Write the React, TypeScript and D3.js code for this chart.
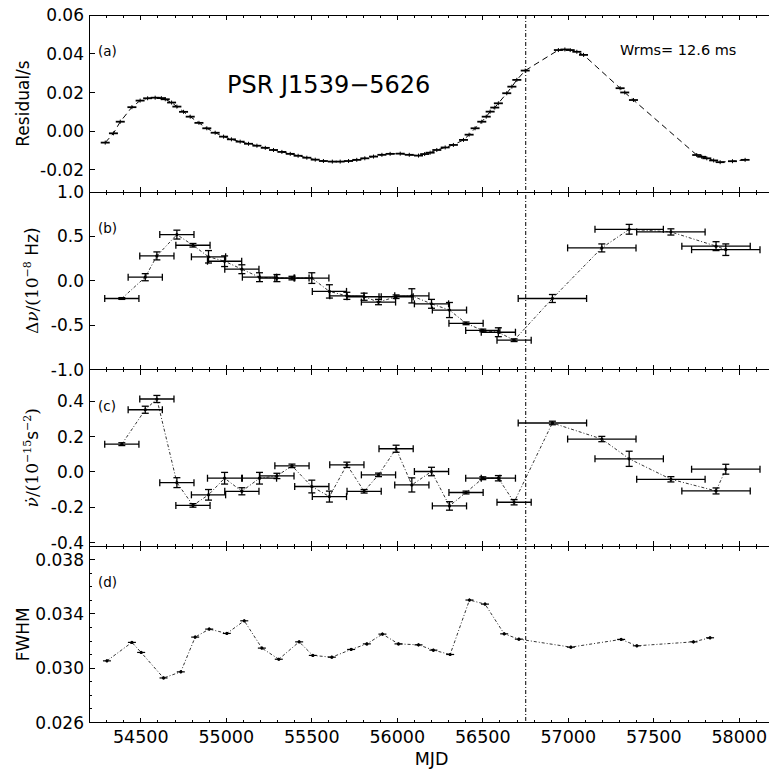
import React, { useRef, useEffect } from 'react';
import * as d3 from 'd3';

// (a) timing residuals: [MJD, residual in s]
const residuals: [number, number][] = [
  [54292, -0.0059], [54340, -0.0011], [54380, 0.0049], [54448, 0.0124], [54496, 0.0158],
  [54540, 0.0170], [54584, 0.0173], [54620, 0.0171], [54643, 0.0165], [54680, 0.0148],
  [54711, 0.0127], [54750, 0.0100], [54789, 0.0075], [54840, 0.0043], [54886, 0.0015],
  [54935, -0.0008], [54984, -0.0028], [55030, -0.0042], [55081, -0.0054], [55130, -0.0065],
  [55179, -0.0075], [55228, -0.0086], [55276, -0.0097], [55325, -0.0107], [55374, -0.0117],
  [55420, -0.0127], [55471, -0.0137], [55520, -0.0147], [55568, -0.0154], [55620, -0.0157],
  [55666, -0.0157], [55715, -0.0154], [55763, -0.0148], [55810, -0.0140], [55861, -0.0131],
  [55910, -0.0122], [55958, -0.0117], [56017, -0.0116], [56070, -0.0122], [56124, -0.0126],
  [56160, -0.0118], [56192, -0.0111], [56231, -0.0097], [56280, -0.0084], [56328, -0.0071],
  [56387, -0.0045], [56420, -0.0018], [56455, 0.0015], [56494, 0.0049], [56520, 0.0075],
  [56543, 0.0101], [56570, 0.0122], [56591, 0.0144], [56640, 0.0196], [56670, 0.0230],
  [56699, 0.0265], [56748, 0.0313], [56942, 0.0419], [56980, 0.0422], [57011, 0.0419],
  [57050, 0.0410], [57089, 0.0394], [57303, 0.0222], [57330, 0.0200], [57381, 0.0161],
  [57751, -0.0123], [57780, -0.0132], [57810, -0.0140], [57850, -0.0151], [57888, -0.0160],
  [57960, -0.0155], [58034, -0.0148],
];

// (b), (c) fitted epochs and half-widths of the fitting windows (days)
const epochs = [54389, 54526, 54594, 54711, 54805, 54896, 54990, 55091, 55194, 55296,
  55384, 55500, 55603, 55705, 55806, 55890, 55993, 56085, 56200, 56305,
  56402, 56500, 56591, 56683, 56907, 57196, 57356, 57600, 57864, 57921];
const halfWin = [100, 100, 100, 100, 100, 100, 100, 100, 100, 100,
  100, 100, 100, 100, 100, 100, 100, 100, 100, 100,
  100, 100, 100, 100, 200, 200, 200, 200, 200, 200];

// (b) delta nu, 1e-8 Hz
const dnu = [-0.20, 0.04, 0.28, 0.52, 0.40, 0.27, 0.22, 0.13, 0.04, 0.03,
  0.03, 0.03, -0.12, -0.17, -0.18, -0.24, -0.18, -0.17, -0.26, -0.33,
  -0.48, -0.56, -0.58, -0.67, -0.20, 0.37, 0.58, 0.55, 0.39, 0.35];
const dnuErr = [0.01, 0.04, 0.045, 0.05, 0.02, 0.07, 0.06, 0.05, 0.05, 0.04,
  0.02, 0.06, 0.075, 0.04, 0.04, 0.03, 0.02, 0.08, 0.05, 0.085,
  0.015, 0.015, 0.05, 0.015, 0.045, 0.045, 0.055, 0.035, 0.05, 0.065];

// (c) nu dot, 1e-15 s^-2
const nudot = [0.157, 0.352, 0.413, -0.061, -0.19, -0.13, -0.036, -0.11, -0.036, -0.023,
  0.034, -0.083, -0.14, 0.040, -0.11, -0.017, 0.131, -0.074, 0.002, -0.193,
  -0.117, -0.036, -0.036, -0.172, 0.277, 0.186, 0.074, -0.042, -0.108, 0.015];
const nudotErr = [0.008, 0.02, 0.02, 0.028, 0.01, 0.03, 0.033, 0.02, 0.033, 0.015,
  0.01, 0.036, 0.031, 0.015, 0.01, 0.01, 0.02, 0.04, 0.024, 0.024,
  0.008, 0.008, 0.015, 0.015, 0.01, 0.015, 0.043, 0.015, 0.017, 0.028];

// (d) FWHM: [MJD, value]
const fwhm: [number, number][] = [
  [54302, 0.03054], [54448, 0.03190], [54502, 0.03116], [54633, 0.02928], [54734, 0.02973],
  [54818, 0.03229], [54900, 0.03288], [55003, 0.03256], [55105, 0.03349], [55208, 0.03148],
  [55307, 0.03066], [55426, 0.03194], [55506, 0.03094], [55617, 0.03081], [55730, 0.03138],
  [55822, 0.03179], [55913, 0.03251], [56007, 0.03179], [56124, 0.03172], [56211, 0.03133],
  [56309, 0.03101], [56422, 0.03502], [56513, 0.03472], [56625, 0.03253], [56711, 0.03214],
  [57015, 0.03155], [57309, 0.03212], [57401, 0.03165], [57732, 0.03194], [57829, 0.03224],
];

const glitchMjd = 56751;
const xMajor = d3.range(54500, 58001, 500);
const xMinor = d3.range(54300, 58200, 100);

const SANS = 'DejaVu Sans, sans-serif';
const SERIF = 'DejaVu Serif, serif';

function App() {
  const ref = useRef<SVGSVGElement>(null);

  useEffect(() => {
    if (!ref.current) return;
    const svg = d3.select(ref.current);
    svg.selectAll('*').remove();

    const x = d3.scaleLinear().domain([54200, 58200]).range([89.5, 773.5]);
    const fmt = (f: string) => (v: number) => d3.format(f)(v).replace('−', '-');

    const panels = [
      { top: 15, bottom: 192, domain: [-0.0314, 0.06], ticks: [-0.02, 0, 0.02, 0.04, 0.06], f: fmt('.2f'), minor: [] as number[] },
      { top: 192, bottom: 369.5, domain: [-1, 1], ticks: [-1, -0.5, 0, 0.5, 1], f: fmt('.1f'), minor: [] as number[] },
      { top: 369.5, bottom: 546, domain: [-0.42, 0.58], ticks: [-0.4, -0.2, 0, 0.2, 0.4], f: fmt('.1f'), minor: [] as number[] },
      { top: 546, bottom: 722.5, domain: [0.026, 0.039], ticks: [0.026, 0.030, 0.034, 0.038], f: fmt('.3f'), minor: d3.range(0.027, 0.0385, 0.001) },
    ];

    const ys = panels.map(p => d3.scaleLinear().domain(p.domain).range([p.bottom, p.top]));

    const seg = (g: any, x1: number, y1: number, x2: number, y2: number, w = 1) =>
      g.append('line').attr('x1', x1).attr('y1', y1).attr('x2', x2).attr('y2', y2)
        .attr('stroke', 'black').attr('stroke-width', w);

    // frames and ticks
    panels.forEach((p, i) => {
      const y = ys[i];
      const g = svg.append('g').attr('shape-rendering', 'crispEdges');
      g.append('rect').attr('x', x.range()[0]).attr('y', p.top)
        .attr('width', x.range()[1] - x.range()[0]).attr('height', p.bottom - p.top)
        .attr('fill', 'none').attr('stroke', 'black').attr('stroke-width', 1);
      xMinor.forEach(v => {
        const len = xMajor.includes(v) ? 5 : 2.5;
        seg(g, x(v), p.top, x(v), p.top + len);
        seg(g, x(v), p.bottom, x(v), p.bottom - len);
      });
      p.ticks.forEach(v => {
        seg(g, x.range()[0], y(v), x.range()[0] + 5, y(v));
        svg.append('text').attr('x', 84).attr('y', y(v)).attr('dy', '0.36em')
          .attr('text-anchor', 'end').attr('font-family', SANS).attr('font-size', 17)
          .text(p.f(v));
      });
      p.minor.forEach(v => seg(g, x.range()[0], y(v), x.range()[0] + 2.5, y(v)));
    });

    // x tick labels on bottom panel
    xMajor.forEach(v => {
      svg.append('text').attr('x', x(v)).attr('y', 743).attr('text-anchor', 'middle')
        .attr('font-family', SANS).attr('font-size', 17.5).text(v);
    });

    // (a) residuals
    const ya = ys[0];
    svg.append('path').datum(residuals)
      .attr('d', d3.line<[number, number]>().x(d => x(d[0])).y(d => ya(d[1])))
      .attr('fill', 'none').attr('stroke', 'black').attr('stroke-width', 1)
      .attr('stroke-dasharray', '6,4');
    const ga = svg.append('g');
    residuals.forEach(([m, r]) => {
      seg(ga, x(m) - 4.5, ya(r), x(m) + 4.5, ya(r), 1.8);
      seg(ga, x(m), ya(r) - 2, x(m), ya(r) + 2, 1);
    });

    // error-bar series
    const dashDot = '3,2,1,2';
    const drawSeries = (y: d3.ScaleLinear<number, number>, vals: number[], errs: number[]) => {
      const pts = epochs.map((m, i) => [m, vals[i]] as [number, number]);
      svg.append('path').datum(pts)
        .attr('d', d3.line<[number, number]>().x(d => x(d[0])).y(d => y(d[1])))
        .attr('fill', 'none').attr('stroke', 'black').attr('stroke-width', 0.8)
        .attr('stroke-dasharray', dashDot);
      const g = svg.append('g');
      epochs.forEach((m, i) => {
        const cx = x(m), cy = y(vals[i]);
        const xl = x(m - halfWin[i]), xr = x(m + halfWin[i]);
        const yt = y(vals[i] + errs[i]), yb = y(vals[i] - errs[i]);
        seg(g, xl, cy, xr, cy, 1.3);
        seg(g, xl, cy - 3.5, xl, cy + 3.5, 1.3);
        seg(g, xr, cy - 3.5, xr, cy + 3.5, 1.3);
        seg(g, cx, yt, cx, yb, 1.3);
        seg(g, cx - 3.5, yt, cx + 3.5, yt, 1.3);
        seg(g, cx - 3.5, yb, cx + 3.5, yb, 1.3);
        g.append('circle').attr('cx', cx).attr('cy', cy).attr('r', 1.6).attr('fill', 'black');
      });
    };
    drawSeries(ys[1], dnu, dnuErr);
    drawSeries(ys[2], nudot, nudotErr);

    // (d) FWHM
    const yd = ys[3];
    svg.append('path').datum(fwhm)
      .attr('d', d3.line<[number, number]>().x(d => x(d[0])).y(d => yd(d[1])))
      .attr('fill', 'none').attr('stroke', 'black').attr('stroke-width', 0.8)
      .attr('stroke-dasharray', dashDot);
    const gd = svg.append('g');
    fwhm.forEach(([m, v]) => {
      seg(gd, x(m) - 4, yd(v), x(m) + 4, yd(v), 1.2);
      seg(gd, x(m), yd(v) - 1.5, x(m), yd(v) + 1.5, 1.2);
      gd.append('circle').attr('cx', x(m)).attr('cy', yd(v)).attr('r', 1.6).attr('fill', 'black');
    });

    // glitch epoch
    seg(svg, x(glitchMjd), panels[0].top, x(glitchMjd), panels[3].bottom, 1)
      .attr('stroke-dasharray', '4,2,1,2');

    // panel tags
    ['(a)', '(b)', '(c)', '(d)'].forEach((t, i) => {
      svg.append('text').attr('x', 98).attr('y', panels[i].top + 41)
        .attr('font-family', SANS).attr('font-size', 13.5).text(t);
    });

    svg.append('text').attr('x', 227).attr('y', 93).attr('font-family', SANS)
      .attr('font-size', 24).text('PSR J1539−5626');
    svg.append('text').attr('x', 620).attr('y', 55).attr('font-family', SANS)
      .attr('font-size', 14.5).text('Wrms= 12.6 ms');

    // axis titles
    svg.append('text').attr('transform', `translate(29,${(panels[0].top + panels[0].bottom) / 2}) rotate(-90)`)
      .attr('text-anchor', 'middle').attr('font-family', SANS).attr('font-size', 17).text('Residual/s');
    svg.append('text').attr('transform', `translate(29,${(panels[3].top + panels[3].bottom) / 2}) rotate(-90)`)
      .attr('text-anchor', 'middle').attr('font-family', SANS).attr('font-size', 17).text('FWHM');
    svg.append('text').attr('x', x(56200)).attr('y', 765).attr('text-anchor', 'middle')
      .attr('font-family', SANS).attr('font-size', 17.5).text('MJD');

    const tb = svg.append('text')
      .attr('transform', `translate(38,${(panels[1].top + panels[1].bottom) / 2}) rotate(-90)`)
      .attr('text-anchor', 'middle').attr('font-size', 17);
    tb.append('tspan').attr('font-family', SERIF).text('Δ');
    tb.append('tspan').attr('font-family', SERIF).attr('font-style', 'italic').text('ν');
    tb.append('tspan').attr('font-family', SERIF).text('/(10');
    tb.append('tspan').attr('font-family', SERIF).attr('font-size', 11).attr('dy', -7).text('−8');
    tb.append('tspan').attr('font-family', SANS).attr('dy', 7).text(' Hz)');

    const tc = svg.append('text')
      .attr('transform', `translate(38,${(panels[2].top + panels[2].bottom) / 2}) rotate(-90)`)
      .attr('text-anchor', 'middle').attr('font-size', 17);
    tc.append('tspan').attr('font-family', SERIF).attr('font-style', 'italic').text('ν̇');
    tc.append('tspan').attr('font-family', SERIF).text('/(10');
    tc.append('tspan').attr('font-family', SERIF).attr('font-size', 11).attr('dy', -7).text('−15');
    tc.append('tspan').attr('font-family', SANS).attr('dy', 7).text('s');
    tc.append('tspan').attr('font-family', SERIF).attr('font-size', 11).attr('dy', -7).text('−2');
    tc.append('tspan').attr('font-family', SERIF).attr('dy', 7).text(')');
  }, []);

  return (
    <>
      <style>{'body{margin:0;}'}</style>
      <svg ref={ref} width={769} height={769} style={{ display: 'block', background: 'white' }} />
    </>
  );
}

export default App;
